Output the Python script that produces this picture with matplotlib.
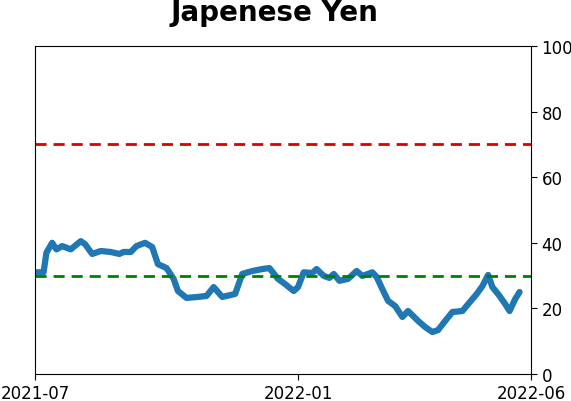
import matplotlib
matplotlib.use("Agg")
import matplotlib.pyplot as plt
import pandas as pd

dates = ["2021-07-01", "2021-07-07", "2021-07-09", "2021-07-13", "2021-07-16", "2021-07-20",
         "2021-07-26", "2021-08-02", "2021-08-05", "2021-08-10", "2021-08-16", "2021-08-23",
         "2021-08-29", "2021-09-01", "2021-09-06", "2021-09-10", "2021-09-16", "2021-09-21",
         "2021-09-25", "2021-10-01", "2021-10-06", "2021-10-09", "2021-10-15", "2021-10-23",
         "2021-10-29", "2021-11-03", "2021-11-09", "2021-11-18", "2021-11-23", "2021-11-30",
         "2021-12-07", "2021-12-12", "2021-12-18", "2021-12-23", "2021-12-29", "2022-01-01",
         "2022-01-05", "2022-01-11", "2022-01-14", "2022-01-19", "2022-01-23", "2022-01-26",
         "2022-01-30", "2022-02-05", "2022-02-11", "2022-02-15", "2022-02-22", "2022-02-25",
         "2022-03-01", "2022-03-05", "2022-03-10", "2022-03-15", "2022-03-19", "2022-03-26",
         "2022-03-31", "2022-04-05", "2022-04-09", "2022-04-14", "2022-04-19", "2022-04-26",
         "2022-04-30", "2022-05-06", "2022-05-10", "2022-05-14", "2022-05-17", "2022-05-22",
         "2022-05-26", "2022-05-29", "2022-06-02", "2022-06-05"]
values = [31.0, 31.0, 37.0, 40.0, 38.0, 39.0,
          38.0, 40.5, 39.6, 36.6, 37.5, 37.2,
          36.6, 37.2, 37.2, 39.0, 40.0, 38.7,
          33.5, 32.3, 29.0, 25.3, 23.2, 23.5,
          23.8, 26.5, 23.5, 24.4, 30.5, 31.4,
          32.0, 32.3, 29.0, 27.4, 25.3, 26.5,
          31.0, 30.8, 32.0, 29.9, 29.3, 30.5,
          28.4, 29.0, 31.4, 29.9, 31.0, 29.6,
          25.9, 22.3, 20.7, 17.4, 19.2, 16.2,
          14.3, 12.8, 13.4, 16.2, 18.9, 19.2,
          21.3, 24.4, 26.8, 30.2, 26.5, 23.8,
          21.3, 19.2, 22.9, 25.0]

title = "Japenese Yen"
upper_level = 70
lower_level = 30
x_start, x_end = "2021-07-01", "2022-06-13"
tick_positions = ["2021-07-01", "2022-01-01", "2022-06-13"]
tick_labels = ["2021-07", "2022-01", "2022-06"]
y_ticks = [0, 20, 40, 60, 80, 100]

x = pd.to_datetime(dates)

fig = plt.figure(figsize=(5.71, 4.02), dpi=100)
ax = fig.add_axes([35 / 571, 27 / 402, 496 / 571, 328 / 402])

ax.plot(x, values, color="#1f77b4", lw=4.5, solid_capstyle="round", solid_joinstyle="round")
ax.axhline(upper_level, color="#dd0000", ls="--", lw=2, dashes=(4, 2.5))
ax.axhline(lower_level, color="green", ls="--", lw=2, dashes=(4, 2.5))

ax.set_xlim(pd.Timestamp(x_start), pd.Timestamp(x_end))
ax.set_ylim(0, 100)
ax.set_xticks(pd.to_datetime(tick_positions))
ax.set_xticklabels(tick_labels, fontsize=12)
ax.yaxis.tick_right()
ax.set_yticks(y_ticks)
ax.set_yticklabels([str(v) for v in y_ticks], fontsize=12)
ax.tick_params(length=4, width=0.8)

fig.text(274 / 571, 1 - 13 / 402, title, fontsize=20, fontweight="bold",
         ha="center", va="center")

fig.savefig("out.png", dpi=100)
